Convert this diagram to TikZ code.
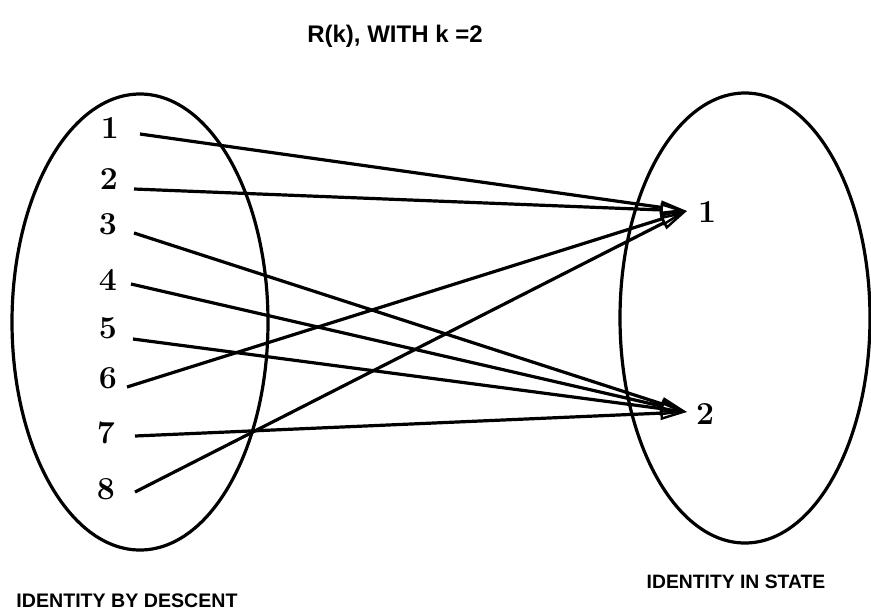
\documentclass[tikz,border=0pt]{standalone}
\usepackage{fontspec}
\setsansfont{Liberation Sans}
\usetikzlibrary{arrows.meta}
\begin{document}
\begin{tikzpicture}[x=0.75pt,y=-0.75pt,
  ring/.style={line width=2.4pt},
  link/.style={line width=2.4pt, -{Triangle[open, length=20pt, width=10pt, line width=1.8pt]}},
  num/.style={font=\fontsize{24pt}{24pt}\selectfont\bfseries, inner sep=0pt},
  captext/.style={font=\sffamily\bfseries\fontsize{14.5pt}{15pt}\selectfont, inner sep=0pt}]
\useasboundingbox (0,0) rectangle (871,612);
\fill[white] (0,0) rectangle (871,612);
% ellipses
\draw[ring] (140,322) ellipse [x radius=96pt, y radius=171pt];
\draw[ring] (745,318) ellipse [x radius=93.75pt, y radius=168.75pt];
% title
\node[captext, font=\sffamily\bfseries\fontsize{18pt}{18pt}\selectfont] (title) at (395,36) {R(k), WITH k =2};
% left labels
\node[num] (n1) at (110,128) {1};
\node[num] (n2) at (109,179) {2};
\node[num] (n3) at (108,224) {3};
\node[num] (n4) at (108,280) {4};
\node[num] (n5) at (108,328) {5};
\node[num] (n6) at (108,378) {6};
\node[num] (n7) at (106,433) {7};
\node[num] (n8) at (106,489) {8};
% right labels
\node[num] (r1) at (707,212) {1};
\node[num] (r2) at (705,414) {2};
% start / end points
\coordinate (s1) at (140,134);
\coordinate (s2) at (134,189);
\coordinate (s3) at (134,233);
\coordinate (s4) at (131,284);
\coordinate (s5) at (133,339);
\coordinate (s6) at (127,387);
\coordinate (s7) at (135,436);
\coordinate (s8) at (135,492);
\coordinate (t1) at (687,211);
\coordinate (t2) at (687,412);
% connectors
\draw[link] (s1) -- (t1);
\draw[link] (s2) -- (t1);
\draw[link] (s3) -- (t2);
\draw[link] (s4) -- (t2);
\draw[link] (s5) -- (t2);
\draw[link] (s6) -- (t1);
\draw[link] (s7) -- (t2);
\draw[link] (s8) -- (t1);
% bottom captions
\node[captext, font=\sffamily\bfseries\fontsize{14.7pt}{15pt}\selectfont] (c1) at (127,601) {IDENTITY BY DESCENT};
\node[captext] (c2) at (736,582) {IDENTITY IN STATE};
\end{tikzpicture}
\end{document}
